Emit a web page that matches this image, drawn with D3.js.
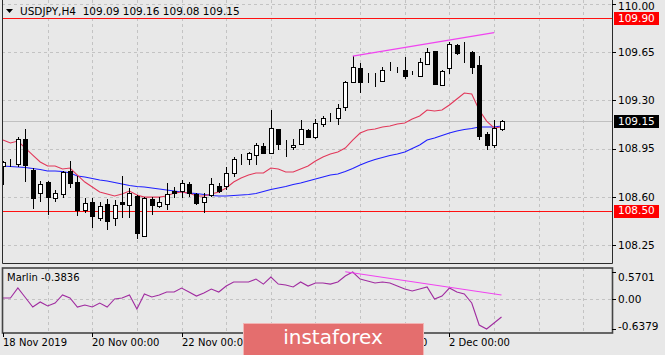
<!DOCTYPE html>
<html lang="en">
<head>
<meta charset="utf-8">
<title>USDJPY H4</title>
<script src="https://d3js.org/d3.v7.min.js"></script>
<style>
  body { margin: 0; background: #e8e8e8; }
  svg { display: block; }
  text { font-family: "DejaVu Sans", sans-serif; }
</style>
</head>
<body>
<script>
// USDJPY H4 candles, bar 0 = 18 Nov 2019 00:00
var symbol = "USDJPY,H4";

var opens = [108.824, 108.845, 108.838, 109.020, 108.795, 108.627, 108.707, 108.591, 108.620, 108.787,
  108.707, 108.504, 108.562, 108.446, 108.548, 108.446, 108.562, 108.540, 108.606, 108.315,
  108.584, 108.533, 108.548, 108.642, 108.642, 108.693, 108.620, 108.562, 108.613, 108.678,
  108.678, 108.773, 108.860, 108.874, 108.903, 108.969, 108.918, 109.092, 108.969, 108.962,
  108.983, 109.085, 109.034, 109.129, 109.179, 109.172, 109.252, 109.434, 109.535, 109.436,
  109.455, 109.441, 109.535, 109.513, 109.521, 109.499, 109.477, 109.564, 109.659, 109.412,
  109.535, 109.702, 109.659, 109.651, 109.557, 109.056, 108.976, 109.09];
var highs = [108.860, 108.874, 109.034, 109.092, 108.809, 108.715, 108.715, 108.649, 108.787, 108.860,
  108.751, 108.591, 108.591, 108.562, 108.584, 108.577, 108.751, 108.664, 108.613, 108.598,
  108.598, 108.598, 108.700, 108.671, 108.722, 108.707, 108.627, 108.627, 108.736, 108.700,
  108.816, 108.889, 108.911, 108.925, 108.991, 108.991, 109.230, 109.092, 109.012, 109.020,
  109.158, 109.092, 109.165, 109.187, 109.208, 109.274, 109.441, 109.622, 109.572, 109.499,
  109.499, 109.542, 109.579, 109.542, 109.615, 109.513, 109.608, 109.680, 109.659, 109.521,
  109.724, 109.710, 109.724, 109.659, 109.622, 109.070, 109.158, 109.16];
var lows = [108.686, 108.816, 108.816, 108.707, 108.511, 108.562, 108.468, 108.562, 108.591, 108.664,
  108.460, 108.483, 108.374, 108.424, 108.359, 108.388, 108.446, 108.446, 108.293, 108.308,
  108.468, 108.519, 108.504, 108.591, 108.591, 108.598, 108.540, 108.483, 108.598, 108.627,
  108.649, 108.744, 108.831, 108.831, 108.831, 108.911, 108.911, 108.940, 108.889, 108.940,
  108.976, 109.034, 109.020, 109.107, 109.143, 109.121, 109.223, 109.430, 109.354, 109.426,
  109.397, 109.434, 109.513, 109.499, 109.455, 109.484, 109.470, 109.557, 109.412, 109.412,
  109.492, 109.630, 109.572, 109.492, 109.012, 108.940, 108.954, 109.08];
var closes = [108.853, 108.848, 109.020, 108.831, 108.591, 108.693, 108.598, 108.627, 108.780, 108.700,
  108.504, 108.555, 108.460, 108.533, 108.424, 108.540, 108.548, 108.627, 108.337, 108.591,
  108.540, 108.562, 108.620, 108.627, 108.700, 108.627, 108.555, 108.598, 108.693, 108.642,
  108.773, 108.874, 108.862, 108.918, 108.976, 108.918, 109.100, 108.983, 108.966, 108.976,
  109.092, 109.034, 109.136, 109.172, 109.181, 109.245, 109.434, 109.542, 109.434, 109.434,
  109.457, 109.521, 109.537, 109.515, 109.477, 109.497, 109.579, 109.651, 109.419, 109.513,
  109.710, 109.644, 109.657, 109.542, 109.041, 108.976, 109.100, 109.15];

// moving averages (red = fast, blue = slow), one value per bar
var maFast = [109.012, 108.991, 109.005, 108.954, 108.903, 108.853, 108.824, 108.824, 108.802, 108.809,
  108.758, 108.707, 108.671, 108.635, 108.620, 108.606, 108.620, 108.642, 108.613, 108.598,
  108.598, 108.598, 108.606, 108.627, 108.635, 108.627, 108.606, 108.606, 108.620, 108.635,
  108.664, 108.707, 108.736, 108.758, 108.773, 108.773, 108.809, 108.802, 108.780, 108.780,
  108.802, 108.824, 108.860, 108.889, 108.911, 108.925, 108.954, 109.012, 109.063, 109.085,
  109.092, 109.107, 109.114, 109.129, 109.136, 109.165, 109.187, 109.230, 109.223, 109.230,
  109.267, 109.310, 109.354, 109.346, 109.230, 109.150, 109.100, 109.107];
var maSlow = [108.824, 108.820, 108.816, 108.813, 108.805, 108.798, 108.787, 108.787, 108.784, 108.773,
  108.751, 108.744, 108.733, 108.722, 108.715, 108.704, 108.693, 108.682, 108.675, 108.671,
  108.664, 108.657, 108.649, 108.642, 108.635, 108.627, 108.624, 108.617, 108.609, 108.606,
  108.606, 108.609, 108.613, 108.617, 108.624, 108.638, 108.653, 108.664, 108.675, 108.689,
  108.700, 108.715, 108.729, 108.744, 108.758, 108.765, 108.784, 108.805, 108.831, 108.853,
  108.871, 108.885, 108.900, 108.911, 108.925, 108.951, 108.976, 109.012, 109.027, 109.045,
  109.063, 109.078, 109.089, 109.096, 109.107, 109.107, 109.107, 109.114];

// Marlin oscillator
var marlin = [0.019, 0.019, 0.231, 0.030, -0.172, -0.066, -0.150, -0.087, 0.083, 0.019,
  -0.172, -0.129, -0.172, -0.087, -0.172, -0.002, 0.019, 0.083, -0.214, 0.104,
  0.040, 0.083, 0.146, 0.146, 0.231, 0.146, 0.061, 0.125, 0.210, 0.146,
  0.273, 0.358, 0.358, 0.358, 0.420, 0.314, 0.462, 0.314, 0.294, 0.252,
  0.358, 0.273, 0.337, 0.337, 0.314, 0.358, 0.485, 0.5701, 0.420, 0.379,
  0.337, 0.358, 0.337, 0.273, 0.210, 0.167, 0.210, 0.252, -0.002, 0.061,
  0.231, 0.146, 0.104, -0.087, -0.553, -0.6379, -0.511, -0.3836];

var priceTicks = [110.00, 109.65, 109.30, 108.95, 108.60, 108.25];
var levels = [109.90, 108.50];
var marlinTicks = [0.5701, 0.00, -0.6379];
var timeTickBars = [0, 12, 24, 36, 48, 60];
var timeTickLabels = ["18 Nov 2019", "20 Nov 00:00", "22 Nov 00:00", "26 Nov 00:00", "28 Nov 00:00", "2 Dec 00:00"];
var gridBars = d3.range(6, 80, 6);
// trend lines [bar, value]
var priceTrend = [[47, 109.622], [66, 109.792]];
var marlinTrend = [[46, 0.576], [67, 0.083]];

var width = 665, height = 355;
var left = 2, right = 612, mainBottom = 263, subTop = 268, subBottom = 333;
var last = closes.length - 1;

var svg = d3.select("body").append("svg")
    .attr("width", width)
    .attr("height", height);

svg.append("rect").attr("width", width).attr("height", height).attr("fill", "#e8e8e8");

var x = d3.scaleLinear().domain([0, last]).range([3, 501.5]);
var y = d3.scaleLinear().domain([108.25, 110]).range([245, 4]);
var ym = d3.scaleLinear().domain([-0.6379, 0.5701]).range([329, 272]);
var px = function(v) { return Math.round(v) + 0.5; };

var defs = svg.append("defs");
defs.append("clipPath").attr("id", "clipMain").append("rect")
    .attr("x", left).attr("y", 0).attr("width", right - left).attr("height", mainBottom);
defs.append("clipPath").attr("id", "clipSub").append("rect")
    .attr("x", left).attr("y", subTop).attr("width", right - left).attr("height", subBottom - subTop);

var gMain = svg.append("g").attr("clip-path", "url(#clipMain)");
var gSub = svg.append("g").attr("clip-path", "url(#clipSub)");

// grid
var gridColor = "#c3c3c3";
gMain.selectAll(".vg").data(gridBars).enter().append("line")
    .attr("x1", d => px(x(d))).attr("x2", d => px(x(d)))
    .attr("y1", 0).attr("y2", mainBottom)
    .attr("stroke", gridColor).attr("stroke-dasharray", "3,3");
gMain.selectAll(".hg").data(priceTicks).enter().append("line")
    .attr("x1", left).attr("x2", right)
    .attr("y1", d => px(y(d))).attr("y2", d => px(y(d)))
    .attr("stroke", gridColor).attr("stroke-dasharray", "3,3");
gSub.selectAll(".vg").data(gridBars).enter().append("line")
    .attr("x1", d => px(x(d))).attr("x2", d => px(x(d)))
    .attr("y1", subTop).attr("y2", subBottom)
    .attr("stroke", gridColor).attr("stroke-dasharray", "3,3");
gSub.append("line")
    .attr("x1", left).attr("x2", right)
    .attr("y1", px(ym(0))).attr("y2", px(ym(0)))
    .attr("stroke", gridColor).attr("stroke-dasharray", "3,3");

// current price line
gMain.append("line")
    .attr("x1", left).attr("x2", right)
    .attr("y1", px(y(closes[last]))).attr("y2", px(y(closes[last])))
    .attr("stroke", "#c0c0c0");

// horizontal levels
gMain.selectAll(".lvl").data(levels).enter().append("line")
    .attr("x1", left).attr("x2", right)
    .attr("y1", d => px(y(d))).attr("y2", d => px(y(d)))
    .attr("stroke", "#ff1010").attr("stroke-width", 1.2);

// moving averages
var maLine = d3.line().x((d, i) => x(i)).y(d => y(d));
gMain.append("path").datum(maSlow).attr("d", maLine)
    .attr("fill", "none").attr("stroke", "#1f1fff").attr("stroke-width", 1.1);
gMain.append("path").datum(maFast).attr("d", maLine)
    .attr("fill", "none").attr("stroke", "#e2385a").attr("stroke-width", 1.1);

// candles
var bars = d3.range(closes.length);
gMain.selectAll(".wick").data(bars).enter().append("line")
    .attr("x1", i => px(x(i))).attr("x2", i => px(x(i)))
    .attr("y1", i => Math.round(y(highs[i]))).attr("y2", i => Math.round(y(lows[i])))
    .attr("stroke", "#000");
gMain.selectAll(".body").data(bars).enter().append("rect")
    .attr("x", i => Math.round(x(i)) - 2 + 0.5)
    .attr("width", 4)
    .attr("y", i => Math.round(y(Math.max(opens[i], closes[i]))) + 0.5)
    .attr("height", i => Math.max(0, Math.round(y(Math.min(opens[i], closes[i]))) - Math.round(y(Math.max(opens[i], closes[i])))))
    .attr("fill", i => closes[i] >= opens[i] ? "#ffffff" : "#000000")
    .attr("stroke", "#000");

// price trend line
gMain.append("line")
    .attr("x1", x(priceTrend[0][0])).attr("y1", y(priceTrend[0][1]))
    .attr("x2", x(priceTrend[1][0])).attr("y2", y(priceTrend[1][1]))
    .attr("stroke", "#f044f0").attr("stroke-width", 1.2);

// marlin
gSub.append("path").datum(marlin)
    .attr("d", d3.line().x((d, i) => x(i)).y(d => ym(d)))
    .attr("fill", "none").attr("stroke", "#a02ca0").attr("stroke-width", 1.1);
gSub.append("line")
    .attr("x1", x(marlinTrend[0][0])).attr("y1", ym(marlinTrend[0][1]))
    .attr("x2", x(marlinTrend[1][0])).attr("y2", ym(marlinTrend[1][1]))
    .attr("stroke", "#f044f0").attr("stroke-width", 1.2);

// panel borders
var border = svg.append("g").attr("fill", "none").attr("stroke", "#2b2b2b");
border.append("path").attr("d", "M" + (left + 0.5) + ",0V" + (mainBottom + 0.5) + "H" + (right + 0.5) + "V0");
border.append("rect")
    .attr("x", left + 0.5).attr("y", subTop)
    .attr("width", right - left).attr("height", subBottom - subTop)
    .attr("stroke-width", 1.6).attr("stroke", "#444");

// price axis
var axisFont = "10.5px";
svg.selectAll(".ptick").data(priceTicks).enter().append("line")
    .attr("x1", right).attr("x2", right + 4)
    .attr("y1", d => px(y(d))).attr("y2", d => px(y(d)))
    .attr("stroke", "#000");
svg.selectAll(".plabel").data(priceTicks).enter().append("text")
    .attr("x", 618).attr("y", d => Math.max(6, y(d))).attr("dy", "0.36em")
    .attr("font-size", axisFont).attr("fill", "#000")
    .text(d => d.toFixed(2));

// price tags
var tags = levels.map(v => ({v: v, bg: "#ff0000"})).concat([{v: closes[last], bg: "#000000"}]);
var tag = svg.selectAll(".tag").data(tags).enter().append("g");
tag.append("rect")
    .attr("x", 614).attr("width", 45)
    .attr("y", d => Math.round(y(d.v)) - 6).attr("height", 13)
    .attr("fill", d => d.bg);
tag.append("text")
    .attr("x", 618).attr("y", d => y(d.v)).attr("dy", "0.36em")
    .attr("font-size", axisFont).attr("fill", "#fff")
    .text(d => d.v.toFixed(2));

// marlin axis
svg.selectAll(".mtick").data(marlinTicks).enter().append("line")
    .attr("x1", right).attr("x2", right + 4)
    .attr("y1", d => px(ym(d))).attr("y2", d => px(ym(d)))
    .attr("stroke", "#000");
svg.selectAll(".mlabel").data(marlinTicks).enter().append("text")
    .attr("x", 618)
    .attr("y", d => Math.min(subBottom - 7, Math.max(subTop + 9, ym(d))))
    .attr("dy", "0.36em")
    .attr("font-size", axisFont).attr("fill", "#000")
    .text(d => d === 0 ? "0.00" : d.toFixed(4));

// time axis
svg.selectAll(".ttick").data(timeTickBars).enter().append("line")
    .attr("x1", d => px(x(d))).attr("x2", d => px(x(d)))
    .attr("y1", subBottom).attr("y2", subBottom + 4)
    .attr("stroke", "#000");
svg.selectAll(".tlabel").data(timeTickBars).enter().append("text")
    .attr("x", d => Math.round(x(d)))
    .attr("y", 346)
    .attr("font-size", "10px").attr("fill", "#000")
    .text((d, i) => timeTickLabels[i]);

// header
svg.append("path").attr("d", "M6,9H13L9.5,13Z").attr("fill", "#000");
svg.append("text")
    .attr("x", 20).attr("y", 15)
    .attr("font-size", axisFont).attr("fill", "#000")
    .attr("xml:space", "preserve")
    .text(symbol + "  " + [opens[last], highs[last], lows[last], closes[last]].map(v => v.toFixed(2)).join(" "));

svg.append("text")
    .attr("x", 7).attr("y", 281)
    .attr("font-size", "10px").attr("fill", "#000")
    .text("Marlin " + marlin[last].toFixed(4));

// watermark (covers part of the time axis, as in the source)
svg.append("rect")
    .attr("x", 243.5).attr("y", 323.5).attr("width", 180).attr("height", 34)
    .attr("fill", "#e46e6e").attr("stroke", "#f2b4b4");
svg.append("text")
    .attr("x", 333).attr("y", 344)
    .attr("text-anchor", "middle")
    .attr("font-family", "Lato, sans-serif")
    .attr("font-size", "20px").attr("fill", "#fff")
    .text("instaforex");
</script>
</body>
</html>
